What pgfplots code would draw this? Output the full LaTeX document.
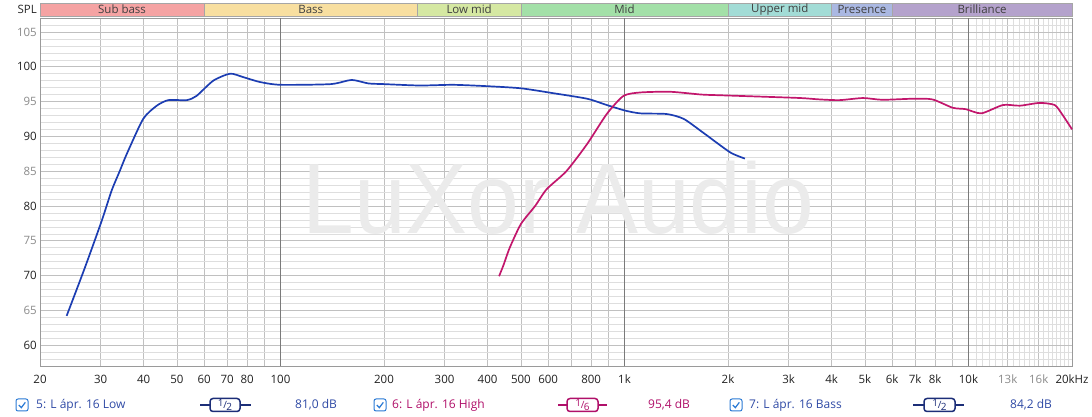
\documentclass[border=0pt]{standalone}
\usepackage{fontspec}
\setmainfont{Open Sans}
\newfontfamily\wmfont{Liberation Sans}
\usepackage{pgfplots}
\pgfplotsset{compat=1.18}
\definecolor{bassblue}{HTML}{1C3DB2}
\definecolor{highmag}{HTML}{C2166C}
\definecolor{legblue}{HTML}{2F4AA5}
\definecolor{legnavy}{HTML}{1C2E78}
\definecolor{legmag}{HTML}{B0106A}
\definecolor{cbblue}{HTML}{2A7AD5}
\definecolor{gridmaj}{HTML}{C0C0C0}
\definecolor{gridmin}{HTML}{DEDEDE}
\definecolor{griddark}{HTML}{7A7A7A}
\definecolor{tlgray}{HTML}{8A8A8A}
\definecolor{tlblack}{HTML}{222222}
\definecolor{bandA}{HTML}{F5A3A3}
\definecolor{bandB}{HTML}{F8DFA0}
\definecolor{bandC}{HTML}{D5E8A2}
\definecolor{bandD}{HTML}{A3E0A8}
\definecolor{bandE}{HTML}{A2DCD6}
\definecolor{bandF}{HTML}{AAB8E2}
\definecolor{bandG}{HTML}{B4A2CC}
\definecolor{wmgray}{HTML}{EBEBEB}

\pgfplotstableread{
f db
23.9 64.2
26.9 70.9
30.2 77.8
32.3 82.2
34.1 85.0
35.7 87.4
39.9 92.5
43.7 94.4
47.2 95.2
53.4 95.2
57.0 95.8
63.8 98.0
71.4 99.0
78.0 98.5
87.2 97.8
100 97.4
140 97.5
161 98.1
180 97.6
200 97.5
254 97.3
318 97.4
400 97.2
500 96.9
620 96.2
779 95.4
888 94.5
1004 93.7
1111 93.3
1328 93.2
1487 92.5
1696 90.5
2028 87.7
2240 86.8
}\bassdata

\pgfplotstableread{
f db
432 69.9
445 71.5
464 74.0
500 77.4
550 80.0
594 82.4
678 85.0
779 88.9
888 93.2
993 95.8
1111 96.3
1358 96.4
1674 96.0
1896 95.9
2500 95.7
3252 95.5
3696 95.3
4220 95.2
4936 95.5
5620 95.25
6900 95.4
7860 95.3
9000 94.1
9820 93.9
10900 93.3
12600 94.5
14100 94.4
16100 94.8
17800 94.5
18700 93.2
20000 91.0
}\highdata

\begin{document}
\begin{tikzpicture}
\useasboundingbox (0,0) rectangle (1092bp,417bp);
\begin{axis}[
  at={(40bp,51bp)}, anchor=south west,
  scale only axis, width=1032bp, height=348bp,
  xmode=log, xmin=20, xmax=20000, ymin=57, ymax=107,
  clip=false,
  axis line style={color=gridmaj!80!black, line width=0.6bp},
  major tick length=0pt, minor tick length=0pt,
  grid=both,
  major grid style={color=gridmaj, line width=0.6bp},
  minor grid style={color=gridmin, line width=0.5bp},
  xtick={20,30,40,50,60,70,80,90,100,200,300,400,500,600,700,800,900,1000,2000,3000,4000,5000,6000,7000,8000,9000,10000,13000,16000,20000},
  xticklabels={20,30,40,50,60,70,80,,100,200,300,400,500,600,,800,,1k,2k,3k,4k,5k,6k,7k,8k,,10k,{\color{tlgray}13k},{\color{tlgray}16k},20kHz},
  minor xtick={10500,11000,11500,12000,12500,13500,14000,14500,15000,15500,16500,17000,17500,18000,18500,19000,19500},
  extra x ticks={100,1000,10000},
  extra x tick labels={,,},
  extra x tick style={grid=major, major grid style={color=griddark, line width=0.8bp}},
  ytick={60,65,70,75,80,85,90,95,100,105},
  yticklabels={60,{\color{tlgray}65},70,{\color{tlgray}75},80,{\color{tlgray}85},90,{\color{tlgray}95},100,{\color{tlgray}105}},
  minor ytick={57,58,...,107},
  ticklabel style={font=\fontsize{11.5bp}{13bp}\selectfont, color=tlblack},
  xticklabel style={anchor=center, yshift=-13bp},
  yticklabel style={anchor=east, inner sep=0pt, xshift=-3bp},
  /pgf/number format/assume math mode=true,
]
% watermark
\node[anchor=base, text=wmgray, font=\wmfont\fontsize{100bp}{100bp}\selectfont, xscale=0.93, inner sep=0pt] at (axis cs:642,76.1) {LuXor Audio};
% frequency bands
\begin{scope}[draw=gray!70, line width=0.5bp]
\filldraw[fill=bandA] (axis cs:20,107.29) rectangle (axis cs:60,109.16);
\filldraw[fill=bandB] (axis cs:60,107.29) rectangle (axis cs:250,109.16);
\filldraw[fill=bandC] (axis cs:250,107.29) rectangle (axis cs:500,109.16);
\filldraw[fill=bandD] (axis cs:500,107.29) rectangle (axis cs:2000,109.16);
\filldraw[fill=bandE] (axis cs:2000,107.29) rectangle (axis cs:4000,109.16);
\filldraw[fill=bandF] (axis cs:4000,107.29) rectangle (axis cs:6000,109.16);
\filldraw[fill=bandG] (axis cs:6000,107.29) rectangle (axis cs:20000,109.16);
\end{scope}
\begin{scope}[every node/.style={font=\fontsize{11.5bp}{13bp}\selectfont, text=black!75, inner sep=0pt}]
\node at (axis cs:34.64,108.2) {Sub bass};
\node at (axis cs:122.5,108.2) {Bass};
\node at (axis cs:353.6,108.2) {Low mid};
\node at (axis cs:1000,108.2) {Mid};
\node at (axis cs:2828,108.2) {Upper mid};
\node at (axis cs:4899,108.2) {Presence};
\node at (axis cs:10954,108.2) {Brilliance};
\end{scope}
\addplot[color=bassblue, line width=1.7bp, smooth, tension=0.4] table[x=f, y=db] {\bassdata};
\addplot[color=highmag, line width=1.7bp, smooth, tension=0.4] table[x=f, y=db] {\highdata};
\end{axis}
% SPL label
\node[anchor=east, font=\fontsize{11.5bp}{13bp}\selectfont, text=black!85, inner sep=0pt] at (37bp,408bp) {SPL};
% legend
\begin{scope}[every node/.style={font=\fontsize{12bp}{14bp}\selectfont, inner sep=0pt}]
% item 1
\draw[cbblue, line width=1bp, fill=white, rounded corners=2bp] (16bp,6bp) rectangle (28bp,18bp);
\draw[cbblue, line width=1.2bp] (18.8bp,12bp) -- (21.3bp,9.3bp) -- (25.3bp,14.6bp);
\node[anchor=west, text=legblue] at (36bp,12bp) {5: L ápr. 16 Low};
\draw[legnavy, line width=1.5bp] (200bp,12bp) -- (251bp,12bp);
\draw[legnavy, line width=1.5bp, fill=white, rounded corners=3bp] (210bp,5.5bp) rectangle (240bp,18.5bp);
\node[text=legnavy, font=\fontsize{10bp}{10bp}\selectfont] at (225bp,12bp) {\raisebox{1.5bp}{1}\kern-0.3bp/\kern-0.6bp\raisebox{-1.8bp}{2}};
\node[anchor=west, text=legblue] at (295bp,12bp) {81,0 dB};
% item 2
\draw[cbblue, line width=1bp, fill=white, rounded corners=2bp] (374bp,6bp) rectangle (386bp,18bp);
\draw[cbblue, line width=1.2bp] (376.8bp,12bp) -- (379.3bp,9.3bp) -- (383.3bp,14.6bp);
\node[anchor=west, text=legmag] at (392bp,12bp) {6: L ápr. 16 High};
\draw[legmag, line width=1.5bp] (558bp,12bp) -- (607bp,12bp);
\draw[legmag, line width=1.5bp, fill=white, rounded corners=3bp] (567bp,5.5bp) rectangle (598bp,18.5bp);
\node[text=legmag, font=\fontsize{10bp}{10bp}\selectfont] at (582.5bp,12bp) {\raisebox{1.5bp}{1}\kern-0.3bp/\kern-0.6bp\raisebox{-1.8bp}{6}};
\node[anchor=west, text=legmag] at (648bp,12bp) {95,4 dB};
% item 3
\draw[cbblue, line width=1bp, fill=white, rounded corners=2bp] (730bp,6bp) rectangle (742bp,18bp);
\draw[cbblue, line width=1.2bp] (732.8bp,12bp) -- (735.3bp,9.3bp) -- (739.3bp,14.6bp);
\node[anchor=west, text=legblue] at (749bp,12bp) {7: L ápr. 16 Bass};
\draw[legnavy, line width=1.5bp] (913bp,12bp) -- (964bp,12bp);
\draw[legnavy, line width=1.5bp, fill=white, rounded corners=3bp] (924bp,5.5bp) rectangle (955bp,18.5bp);
\node[text=legnavy, font=\fontsize{10bp}{10bp}\selectfont] at (939.5bp,12bp) {\raisebox{1.5bp}{1}\kern-0.3bp/\kern-0.6bp\raisebox{-1.8bp}{2}};
\node[anchor=west, text=legblue] at (1010bp,12bp) {84,2 dB};
\end{scope}
\end{tikzpicture}
\end{document}
